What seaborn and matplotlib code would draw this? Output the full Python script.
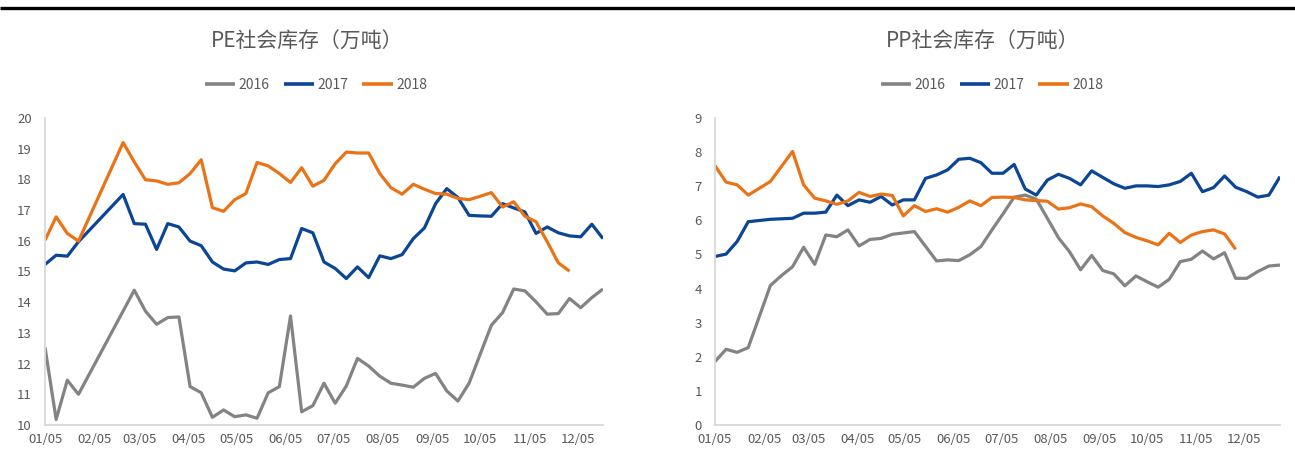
import numpy as np
import pandas as pd
import matplotlib
matplotlib.use("Agg")
import matplotlib.pyplot as plt
import matplotlib.dates as mdates
from matplotlib.lines import Line2D
import seaborn as sns

nan = np.nan

# Weekly observation dates (month-day), shared by every year
week_dates = ["01-05", "01-12", "01-19", "01-26", "02-02", "02-09", "02-16", "02-23",
              "03-02", "03-09", "03-16", "03-23", "03-30", "04-06", "04-13", "04-20",
              "04-27", "05-04", "05-11", "05-18", "05-25", "06-01", "06-08", "06-15",
              "06-22", "06-29", "07-06", "07-13", "07-20", "07-27", "08-03", "08-10",
              "08-17", "08-24", "08-31", "09-07", "09-14", "09-21", "09-28", "10-05",
              "10-12", "10-19", "10-26", "11-02", "11-09", "11-16", "11-23", "11-30",
              "12-07", "12-14", "12-21", "12-28"]

years = ["2016", "2017", "2018"]

# PE social inventory, 10k tonnes
pe_2016 = [12.53, 10.18, 11.46, 11.00, nan, nan, nan, nan, 14.39, 13.71, 13.28, 13.50,
           13.52, 11.25, 11.05, 10.25, 10.49, 10.27, 10.33, 10.22, 11.05, 11.25, 13.55, 10.43,
           10.63, 11.36, 10.71, 11.27, 12.17, 11.92, 11.59, 11.36, 11.30, 11.23, 11.52, 11.68,
           11.11, 10.78, 11.36, 12.31, 13.25, 13.66, 14.43, 14.37, 14.01, 13.61, 13.63, 14.12,
           13.82, 14.15, 14.43, nan]
pe_2017 = [15.23, 15.53, 15.50, 15.97, nan, nan, nan, 17.51, 16.56, 16.54, 15.72, 16.56,
           16.45, 15.99, 15.84, 15.31, 15.08, 15.02, 15.28, 15.31, 15.23, 15.39, 15.42, 16.40,
           16.26, 15.31, 15.10, 14.77, 15.15, 14.80, 15.51, 15.42, 15.55, 16.07, 16.42, 17.21,
           17.70, 17.41, 16.83, 16.81, 16.80, 17.21, 17.07, 16.94, 16.24, 16.45, 16.26, 16.16,
           16.13, 16.54, 16.07, nan]
pe_2018 = [16.02, 16.78, 16.24, 15.99, nan, nan, nan, 19.20, 18.57, 17.99, 17.95, 17.84,
           17.89, 18.19, 18.64, 17.08, 16.96, 17.34, 17.54, 18.55, 18.44, 18.19, 17.90, 18.38,
           17.78, 17.97, 18.51, 18.89, 18.86, 18.86, 18.19, 17.73, 17.52, 17.84, 17.68, 17.54,
           17.52, 17.38, 17.34, 17.45, 17.57, 17.10, 17.27, 16.80, 16.62, 15.97, 15.28, 15.01,
           nan, nan, nan, nan]

# PP social inventory, 10k tonnes
pp_2016 = [1.86, 2.22, 2.13, 2.27, nan, 4.09, 4.38, 4.64, 5.21, 4.71, 5.57, 5.52,
           5.72, 5.25, 5.44, 5.47, 5.59, nan, 5.67, nan, 4.81, 4.84, 4.82, 4.99,
           5.23, 5.72, 6.19, 6.68, 6.74, 6.62, 6.06, 5.49, 5.08, 4.55, 4.97, 4.53,
           4.43, 4.08, 4.37, 4.20, 4.04, 4.27, 4.79, 4.86, 5.10, 4.87, 5.05, 4.30,
           4.30, 4.50, 4.66, 4.69]
pp_2017 = [4.94, 5.01, 5.38, 5.96, nan, 6.03, nan, 6.06, 6.21, 6.21, 6.24, 6.74,
           6.43, 6.60, 6.53, 6.70, 6.45, 6.60, 6.60, 7.23, 7.33, 7.48, 7.79, 7.82,
           7.69, 7.38, 7.38, 7.64, 6.92, 6.74, 7.18, 7.35, 7.23, 7.04, 7.45, 7.26,
           7.07, 6.94, 7.01, 7.01, 6.99, 7.04, 7.14, 7.38, 6.84, 6.96, 7.30, 6.97,
           6.84, 6.68, 6.74, 7.28]
pp_2018 = [7.60, 7.12, 7.04, 6.74, 6.94, 7.14, 7.58, 8.02, 7.04, 6.65, 6.57, 6.47,
           6.57, 6.82, 6.70, 6.77, 6.73, 6.13, 6.43, 6.26, 6.34, 6.24, 6.38, 6.57,
           6.43, 6.67, 6.68, 6.67, 6.60, 6.58, 6.56, 6.33, 6.37, 6.48, 6.40, 6.13,
           5.91, 5.64, 5.50, 5.40, 5.28, 5.62, 5.35, 5.57, 5.67, 5.72, 5.60, 5.15,
           nan, nan, nan, nan]

pe_title = "PE社会库存（万吨）"
pp_title = "PP社会库存（万吨）"

palette = {"2016": "#838383", "2017": "#0b4595", "2018": "#eb7317"}
text_color = "#595959"
axis_color = "#d9d9d9"

sns.set_style("white")
plt.rcParams["font.family"] = ["Noto Sans CJK SC", "DejaVu Sans"]
plt.rcParams["lines.solid_joinstyle"] = "round"
plt.rcParams["lines.solid_capstyle"] = "butt"

W, H = 1295, 453
fig = plt.figure(figsize=(W / 100, H / 100), dpi=100)


def long_frame(series):
    frames = []
    for yr, vals in zip(years, series):
        d = pd.DataFrame({"date": pd.to_datetime(["2018-" + s for s in week_dates]),
                          "value": vals, "year": yr})
        frames.append(d.dropna())
    return pd.concat(frames, ignore_index=True)


def draw(rect, series, ylim, yticks, xend, title, title_x):
    ax = fig.add_axes(rect)
    df = long_frame(series)
    sns.lineplot(data=df, x="date", y="value", hue="year", hue_order=years,
                 palette=palette, linewidth=2.3, estimator=None, sort=True,
                 legend=False, ax=ax)
    ax.set_xlim(pd.Timestamp("2018-01-05"), pd.Timestamp("2018-" + xend))
    ax.set_ylim(*ylim)
    ax.set_yticks(yticks)
    ax.xaxis.set_major_locator(mdates.MonthLocator(bymonthday=5))
    ax.xaxis.set_major_formatter(mdates.DateFormatter("%m/%d"))
    ax.set_xlabel("")
    ax.set_ylabel("")
    for side in ["top", "right"]:
        ax.spines[side].set_visible(False)
    for side in ["left", "bottom"]:
        ax.spines[side].set_color(axis_color)
        ax.spines[side].set_linewidth(1.3)
    ax.tick_params(axis="both", direction="out", length=3.5, width=1.0,
                   color=axis_color, labelcolor=text_color, labelsize=9.5)
    ax.tick_params(axis="y", pad=6)
    ax.tick_params(axis="x", pad=2)
    ax.grid(False)

    fig.text(title_x, 1 - 42 / H, title, ha="center", va="center",
             fontsize=15, color=text_color)
    handles = [Line2D([], [], color=palette[y], lw=2.6) for y in years]
    ax.legend(handles, years, loc="center", bbox_to_anchor=(title_x + 0.007, 1 - 85 / H),
              bbox_transform=fig.transFigure, ncol=3, frameon=False,
              fontsize=10, handlelength=2.2, handletextpad=0.25, columnspacing=1.0,
              labelcolor=text_color)
    return ax


draw([45 / W, 1 - 425 / H, 558 / W, 307 / H], [pe_2016, pe_2017, pe_2018],
     (10, 20), range(10, 21), "12-21", pe_title, 307 / W)
draw([715 / W, 1 - 425 / H, 565 / W, 307 / H], [pp_2016, pp_2017, pp_2018],
     (0, 9), range(0, 10), "12-28", pp_title, 983 / W)

# heavy rule across the top edge
fig.add_artist(Line2D([0, 1], [1 - 7.5 / H, 1 - 7.5 / H], transform=fig.transFigure,
                      color="black", lw=2.4))

fig.savefig("out.png", dpi=100, facecolor="white")
